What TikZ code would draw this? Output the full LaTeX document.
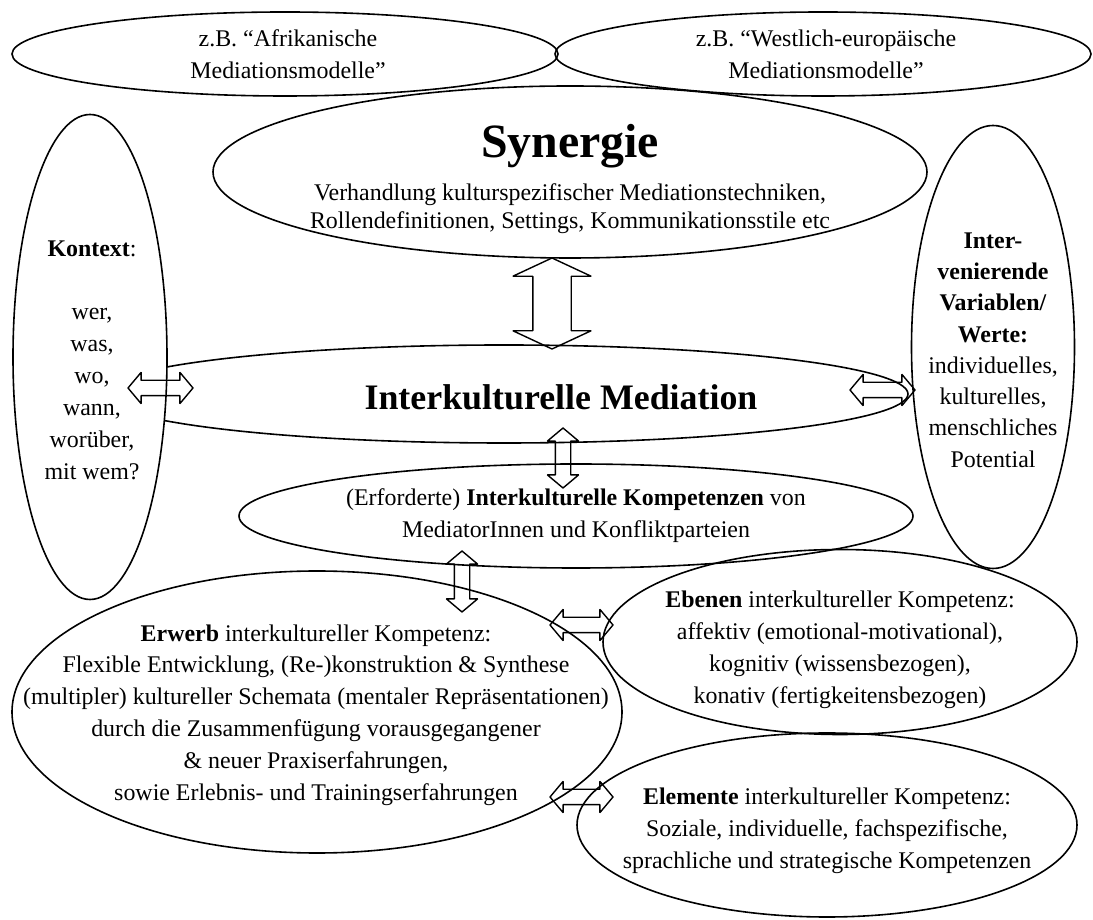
\documentclass[tikz,border=0pt]{standalone}
\usepackage{fontspec}
\setmainfont{Liberation Serif}
\usetikzlibrary{shapes.geometric,shapes.arrows}

\begin{document}
\begin{tikzpicture}[>=latex,line join=bevel,
  oval/.style={draw,ellipse,inner sep=0pt,line width=0.8bp},
  nodetext/.style={align=center,inner sep=0pt,font=\fontsize{12}{16}\selectfont},
  dblarrow/.style={draw,double arrow,inner xsep=0pt,inner ysep=3.5bp,line width=0.7bp,
    minimum height=#1,double arrow head extend=4bp,double arrow tip angle=100},
  bigarrow/.style={draw,double arrow,inner xsep=0pt,inner ysep=9.25bp,line width=0.7bp,
    minimum height=#1,double arrow head extend=10bp,double arrow tip angle=130},
]
%%
\useasboundingbox (0bp,0bp) rectangle (546.5bp,460bp);
\node (node_mediation) at (252bp,263bp) [oval,minimum width=404bp,minimum height=49bp] {};
  \node (node_kontext) at (45bp,281.5bp) [oval,fill=white,minimum width=77bp,minimum height=242.5bp] {};
  \node (node_inter) at (496.5bp,286.5bp) [oval,fill=white,minimum width=81.5bp,minimum height=221.5bp] {};
  \node (node_afrika) at (142.5bp,433bp) [oval,minimum width=273bp,minimum height=42bp] {};
  \node (node_westen) at (411.5bp,433bp) [oval,minimum width=268bp,minimum height=42bp] {};
  \node (node_synergie) at (285bp,374bp) [oval,minimum width=357bp,minimum height=86bp] {};
  \node (node_kompetenz) at (288bp,202bp) [oval,minimum width=337bp,minimum height=52bp] {};
  \node (node_erwerb) at (158.5bp,104bp) [oval,minimum width=305bp,minimum height=141bp] {};
  \node (node_ebenen) at (420bp,139bp) [oval,minimum width=237bp,minimum height=92.5bp] {};
  \node (node_elemente) at (413.5bp,47.5bp) [oval,minimum width=250bp,minimum height=92bp] {};
%
\node (text_afrika) at (144bp,433bp) [nodetext] {z.B. “Afrikanische\\Mediationsmodelle”};
  \node (text_westen) at (413bp,433bp) [nodetext] {z.B. “Westlich-europäische\\Mediationsmodelle”};
  \node (title_synergie) at (285bp,387bp) [inner sep=0pt,font=\fontsize{24}{28}\selectfont\bfseries] {Synergie};
  \node (text_synergie) at (285bp,355.5bp) [nodetext,font=\fontsize{12}{14}\selectfont] {Verhandlung kulturspezifischer Mediationstechniken,\\Rollendefinitionen, Settings, Kommunikationsstile etc};
  \node (text_kontext) at (46bp,280bp) [nodetext] {\textbf{Kontext}:\\[16pt]wer,\\was,\\wo,\\wann,\\worüber,\\mit wem?};
  \node (text_inter) at (496.5bp,285bp) [nodetext,font=\fontsize{12}{15.7}\selectfont] {\textbf{Inter-}\\\textbf{venierende}\\\textbf{Variablen/}\\\textbf{Werte:}\\individuelles,\\kulturelles,\\menschliches\\Potential};
  \node (title_mediation) at (280.5bp,261.5bp) [inner sep=0pt,font=\fontsize{18}{22}\selectfont\bfseries] {Interkulturelle Mediation};
  \node (text_kompetenz) at (288bp,202bp) [nodetext] {(Erforderte) \textbf{Interkulturelle Kompetenzen} von\\MediatorInnen und Konfliktparteien};
  \node (text_erwerb) at (158bp,102.5bp) [nodetext] {\textbf{Erwerb} interkultureller Kompetenz:\\Flexible Entwicklung, (Re-)konstruktion \& Synthese\\(multipler) kultureller Schemata (mentaler Repräsentationen)\\durch die Zusammenfügung vorausgegangener\\\& neuer Praxiserfahrungen,\\sowie Erlebnis- und Trainingserfahrungen};
  \node (text_ebenen) at (420bp,135bp) [nodetext] {\textbf{Ebenen} interkultureller Kompetenz:\\affektiv (emotional-motivational),\\kognitiv (wissensbezogen),\\konativ (fertigkeitensbezogen)};
  \node (text_elemente) at (413.5bp,44.5bp) [nodetext] {\textbf{Elemente} interkultureller Kompetenz:\\Soziale, individuelle, fachspezifische,\\sprachliche und strategische Kompetenzen};
%
\node (arrow_kontext) at (80.25bp,266bp) [dblarrow=32.5bp] {};
  \node (arrow_inter) at (441.25bp,265bp) [dblarrow=32.5bp] {};
  \node (arrow_synergie) at (276bp,308.25bp) [bigarrow=45.5bp,rotate=90] {};
  \node (arrow_kompetenz) at (281.5bp,231bp) [dblarrow=30bp,rotate=90] {};
  \node (arrow_erwerb) at (231bp,169.25bp) [dblarrow=30.5bp,rotate=90] {};
  \node (arrow_ebenen) at (290.75bp,147.5bp) [dblarrow=31.5bp] {};
  \node (arrow_elemente) at (290.75bp,61.5bp) [dblarrow=31.5bp] {};
%
\end{tikzpicture}
\end{document}
